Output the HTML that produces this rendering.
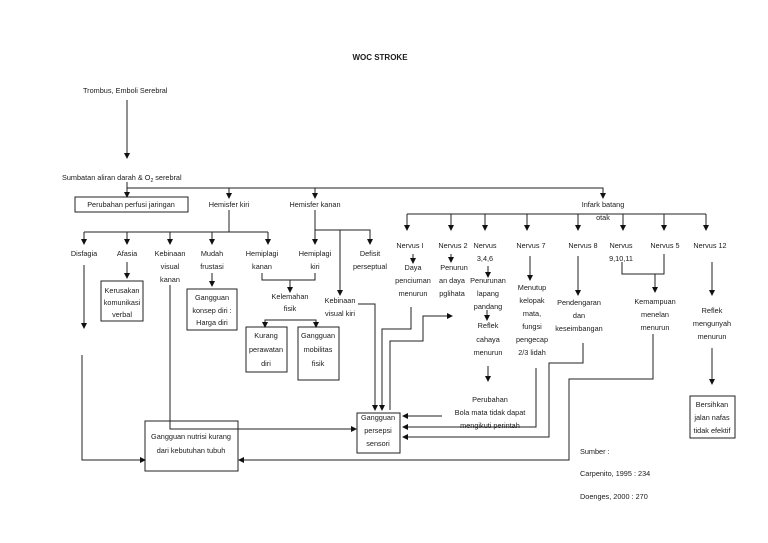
<!DOCTYPE html>
<html><head><meta charset="utf-8"><style>
html,body{margin:0;padding:0;background:#fff;}
svg{display:block;}
text{font-family:"Liberation Sans",sans-serif;font-size:7.3px;fill:#1a1a1a;}
.c{text-anchor:middle;}
</style></head><body>
<svg width="768" height="543" viewBox="0 0 768 543" xmlns="http://www.w3.org/2000/svg">
<defs><marker id="a" markerWidth="6" markerHeight="6" refX="5" refY="3" orient="auto" markerUnits="userSpaceOnUse"><path d="M0,0 L6,3 L0,6 z" fill="#111"/></marker></defs>
<g stroke="#222" stroke-width="1" fill="none">
<line x1="127" y1="100" x2="127" y2="158" marker-end="url(#a)"/>
<line x1="127" y1="182" x2="127" y2="197" marker-end="url(#a)"/>
<polyline points="127,188 603,188 603,198" marker-end="url(#a)"/>
<line x1="229" y1="188" x2="229" y2="198" marker-end="url(#a)"/>
<line x1="315" y1="188" x2="315" y2="198" marker-end="url(#a)"/>
<rect x="75" y="197" width="113" height="15"/>
<!-- hemisfer kiri -->
<polyline points="229,210 229,232"/>
<line x1="84" y1="232" x2="268" y2="232"/>
<line x1="84" y1="232" x2="84" y2="244" marker-end="url(#a)"/>
<line x1="127" y1="232" x2="127" y2="244" marker-end="url(#a)"/>
<line x1="170" y1="232" x2="170" y2="244" marker-end="url(#a)"/>
<line x1="212" y1="232" x2="212" y2="244" marker-end="url(#a)"/>
<line x1="268" y1="232" x2="268" y2="244" marker-end="url(#a)"/>
<!-- hemisfer kanan -->
<line x1="315" y1="210" x2="315" y2="244" marker-end="url(#a)"/>
<polyline points="315,230 370,230 370,244" marker-end="url(#a)"/>
<line x1="340" y1="230" x2="340" y2="295" marker-end="url(#a)"/>
<line x1="127" y1="262" x2="127" y2="278" marker-end="url(#a)"/>
<rect x="101" y="281" width="42" height="40"/>
<line x1="212" y1="273" x2="212" y2="286" marker-end="url(#a)"/>
<rect x="187" y="289" width="50" height="41"/>
<polyline points="262,273 262,280 315,280 315,273"/>
<line x1="290" y1="280" x2="290" y2="292" marker-end="url(#a)"/>
<polyline points="265,327 265,320 316,320 316,327" />
<line x1="265" y1="320" x2="265" y2="327" marker-end="url(#a)"/>
<line x1="316" y1="320" x2="316" y2="327" marker-end="url(#a)"/>
<rect x="246" y="327" width="41" height="45"/>
<rect x="298" y="327" width="41" height="53"/>
<line x1="84" y1="265" x2="84" y2="328" marker-end="url(#a)"/>
<polyline points="82,355 82,460 145,460" marker-end="url(#a)"/>
<rect x="145" y="421" width="93" height="50"/>
<polyline points="170,285 170,429 356,429" marker-end="url(#a)"/>
<rect x="357" y="413" width="43" height="40"/>
<polyline points="358,304 375,304 375,410" marker-end="url(#a)"/>
<polyline points="411,307 411,329 382,329 382,410" marker-end="url(#a)"/>
<polyline points="390,410 390,341 423,341 423,316 452,316" marker-end="url(#a)"/>
<!-- infark -->
<line x1="407" y1="214" x2="706" y2="214"/>
<g>
<line x1="407" y1="214" x2="407" y2="230" marker-end="url(#a)"/>
<line x1="451" y1="214" x2="451" y2="230" marker-end="url(#a)"/>
<line x1="485" y1="214" x2="485" y2="230" marker-end="url(#a)"/>
<line x1="527" y1="214" x2="527" y2="230" marker-end="url(#a)"/>
<line x1="578" y1="214" x2="578" y2="230" marker-end="url(#a)"/>
<line x1="623" y1="214" x2="623" y2="230" marker-end="url(#a)"/>
<line x1="664" y1="214" x2="664" y2="230" marker-end="url(#a)"/>
<line x1="706" y1="214" x2="706" y2="230" marker-end="url(#a)"/>
</g>
<line x1="413" y1="254" x2="413" y2="263" marker-end="url(#a)"/>
<line x1="451" y1="254" x2="451" y2="262" marker-end="url(#a)"/>
<line x1="488" y1="266" x2="488" y2="277" marker-end="url(#a)"/>
<line x1="487" y1="310" x2="487" y2="320" marker-end="url(#a)"/>
<line x1="488" y1="366" x2="488" y2="381" marker-end="url(#a)"/>
<line x1="530" y1="256" x2="530" y2="280" marker-end="url(#a)"/>
<line x1="578" y1="256" x2="578" y2="295" marker-end="url(#a)"/>
<polyline points="622,262 622,274 664,274 664,254"/>
<line x1="655" y1="274" x2="655" y2="292" marker-end="url(#a)"/>
<line x1="712" y1="262" x2="712" y2="295" marker-end="url(#a)"/>
<line x1="712" y1="348" x2="712" y2="384" marker-end="url(#a)"/>
<rect x="690" y="396" width="45" height="42"/>
<line x1="442" y1="416" x2="403" y2="416" marker-end="url(#a)"/>
<polyline points="536,368 536,427 403,427" marker-end="url(#a)"/>
<polyline points="583,343 583,363 549,363 549,437 403,437" marker-end="url(#a)"/>
<polyline points="653,334 653,379 569,379 569,460 239,460" marker-end="url(#a)"/>
</g>
<text x="380" y="60" class="c" style="font-weight:bold;font-size:8px">WOC STROKE</text>
<text x="83" y="93">Trombus, Emboli Serebral</text>
<text x="62" y="180">Sumbatan aliran darah &amp; O<tspan font-size="5" dy="2">2</tspan><tspan dy="-2"> serebral</tspan></text>
<text x="131" y="207" class="c">Perubahan perfusi jaringan</text>
<text x="229" y="207" class="c">Hemisfer kiri</text>
<text x="315" y="207" class="c">Hemisfer kanan</text>
<text x="603" y="207" class="c">Infark batang</text>
<text x="603" y="220" class="c">otak</text>
<text x="84" y="256" class="c">Disfagia</text>
<text x="127" y="256" class="c">Afasia</text>
<text x="170" y="256" class="c">Kebinaan</text><text x="170" y="269" class="c">visual</text><text x="170" y="282" class="c">kanan</text>
<text x="212" y="256" class="c">Mudah</text><text x="212" y="269" class="c">frustasi</text>
<text x="262" y="256" class="c">Hemiplagi</text><text x="262" y="269" class="c">kanan</text>
<text x="315" y="256" class="c">Hemiplagi</text><text x="315" y="269" class="c">kiri</text>
<text x="370" y="256" class="c">Defisit</text><text x="370" y="269" class="c">perseptual</text>
<text x="122" y="293" class="c">Kerusakan</text><text x="122" y="305" class="c">komunikasi</text><text x="122" y="317" class="c">verbal</text>
<text x="212" y="300" class="c">Gangguan</text><text x="212" y="313" class="c">konsep diri :</text><text x="212" y="325" class="c">Harga diri</text>
<text x="290" y="299" class="c">Kelemahan</text><text x="290" y="311" class="c">fisik</text>
<text x="340" y="303" class="c">Kebinaan</text><text x="340" y="316" class="c">visual kiri</text>
<text x="266" y="338" class="c">Kurang</text><text x="266" y="352" class="c">perawatan</text><text x="266" y="366" class="c">diri</text>
<text x="318" y="338" class="c">Gangguan</text><text x="318" y="352" class="c">mobilitas</text><text x="318" y="366" class="c">fisik</text>
<text x="191" y="439" class="c">Gangguan nutrisi kurang</text><text x="191" y="453" class="c">dari kebutuhan tubuh</text>
<text x="378" y="420" class="c">Gangguan</text><text x="378" y="433" class="c">persepsi</text><text x="378" y="446" class="c">sensori</text>
<text x="410" y="248" class="c">Nervus I</text>
<text x="453" y="248" class="c">Nervus 2</text>
<text x="485" y="248" class="c">Nervus</text><text x="485" y="261" class="c">3,4,6</text>
<text x="531" y="248" class="c">Nervus 7</text>
<text x="583" y="248" class="c">Nervus 8</text>
<text x="621" y="248" class="c">Nervus</text><text x="621" y="261" class="c">9,10,11</text>
<text x="665" y="248" class="c">Nervus 5</text>
<text x="710" y="248" class="c">Nervus 12</text>
<text x="413" y="270" class="c">Daya</text><text x="413" y="283" class="c">penciuman</text><text x="413" y="296" class="c">menurun</text>
<text x="454" y="270" class="c">Penurun</text><text x="452" y="283" class="c">an daya</text><text x="452" y="296" class="c">pglihata</text>
<text x="488" y="283" class="c">Penurunan</text><text x="488" y="296" class="c">lapang</text><text x="488" y="309" class="c">pandang</text>
<text x="488" y="328" class="c">Reflek</text><text x="488" y="342" class="c">cahaya</text><text x="488" y="355" class="c">menurun</text>
<text x="490" y="402" class="c">Perubahan</text><text x="490" y="415" class="c">Bola mata tidak dapat</text><text x="490" y="428" class="c">mengikuti perintah</text>
<text x="532" y="290" class="c">Menutup</text><text x="532" y="303" class="c">kelopak</text><text x="532" y="316" class="c">mata,</text><text x="532" y="329" class="c">fungsi</text><text x="532" y="342" class="c">pengecap</text><text x="532" y="355" class="c">2/3 lidah</text>
<text x="579" y="305" class="c">Pendengaran</text><text x="579" y="318" class="c">dan</text><text x="579" y="331" class="c">keseimbangan</text>
<text x="655" y="304" class="c">Kemampuan</text><text x="655" y="317" class="c">menelan</text><text x="655" y="330" class="c">menurun</text>
<text x="712" y="313" class="c">Reflek</text><text x="712" y="326" class="c">mengunyah</text><text x="712" y="339" class="c">menurun</text>
<text x="712" y="407" class="c">Bersihkan</text><text x="712" y="420" class="c">jalan nafas</text><text x="712" y="433" class="c">tidak efektif</text>
<text x="580" y="454">Sumber :</text>
<text x="580" y="476">Carpenito, 1995 : 234</text>
<text x="580" y="499">Doenges, 2000 : 270</text>
</svg>
</body></html>
